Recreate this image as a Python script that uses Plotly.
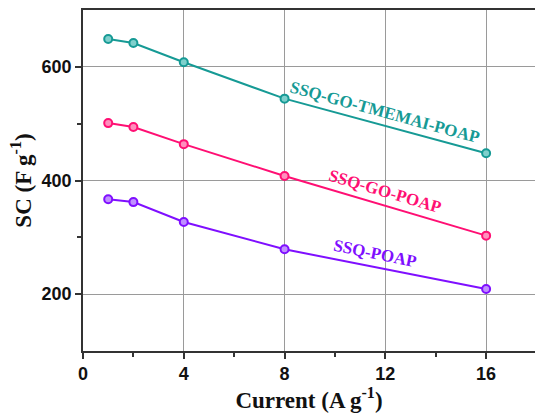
import plotly.graph_objects as go

# Specific capacitance vs. current density
current = [1, 2, 4, 8, 16]
sc_tmemai = [649, 642, 608, 544, 448]
sc_go = [501, 494, 464, 408, 303]
sc_poap = [367, 362, 327, 279, 209]

series = [
    ("SSQ-GO-TMEMAI-POAP", sc_tmemai, "#169a95", "#7fd0cc"),
    ("SSQ-GO-POAP", sc_go, "#ff0f73", "#ff8fbd"),
    ("SSQ-POAP", sc_poap, "#7f0fff", "#c08fff"),
]

fig = go.Figure()
for name, vals, col, light in series:
    fig.add_trace(go.Scatter(
        x=current, y=vals, mode="lines+markers", name=name,
        line=dict(color=col, width=2),
        marker=dict(symbol="circle", size=8, color=light,
                    line=dict(color=col, width=2)),
        showlegend=False,
    ))

# Curve labels placed along each line
labels = [
    ("SSQ-GO-TMEMAI-POAP", 12.0, 519, 15.2, "#169a95"),
    ("SSQ-GO-POAP", 12.0, 381, 16.4, "#ff0f73"),
    ("SSQ-POAP", 11.6, 271, 11.5, "#7f0fff"),
]
for text, x, y, ang, col in labels:
    fig.add_annotation(x=x, y=y, text=text, showarrow=False, textangle=ang,
                       font=dict(family="Liberation Serif", size=17, color=col,
                                 weight="bold"))

axis_font = dict(family="Liberation Sans", size=18, color="#111", weight="bold")
title_font = dict(family="Liberation Serif", size=23, color="#111", weight="bold")

fig.update_xaxes(
    range=[0, 17.94], tickvals=[0, 4, 8, 12, 16], ticks="outside", ticklen=6,
    tickwidth=1.5, tickcolor="#333",
    minor=dict(tickvals=[2, 6, 10, 14], ticks="outside", ticklen=4,
               tickcolor="#333", tickwidth=1.5, showgrid=False),
    showgrid=True, gridcolor="#9a9a9a", gridwidth=1,
    showline=True, linecolor="#333", linewidth=1.5, mirror=True,
    zeroline=False, tickfont=axis_font,
    title=dict(text="Current (A g<sup>-1</sup>)", font=title_font, standoff=6),
)
fig.update_yaxes(
    range=[100, 700], tickvals=[200, 400, 600], ticks="outside", ticklen=6,
    tickwidth=1.5, tickcolor="#333",
    minor=dict(tickvals=[300, 500], ticks="outside", ticklen=4,
               tickcolor="#333", tickwidth=1.5, showgrid=False),
    showgrid=True, gridcolor="#9a9a9a", gridwidth=1,
    showline=True, linecolor="#333", linewidth=1.5, mirror=False,
    zeroline=False, tickfont=axis_font,
    title=dict(text="SC (F g<sup>-1</sup>)", font=title_font, standoff=4),
)

fig.update_layout(
    width=535, height=413,
    margin=dict(l=83, r=0, t=10, b=62),
    plot_bgcolor="white", paper_bgcolor="white",
)

fig.write_html("out.html")
